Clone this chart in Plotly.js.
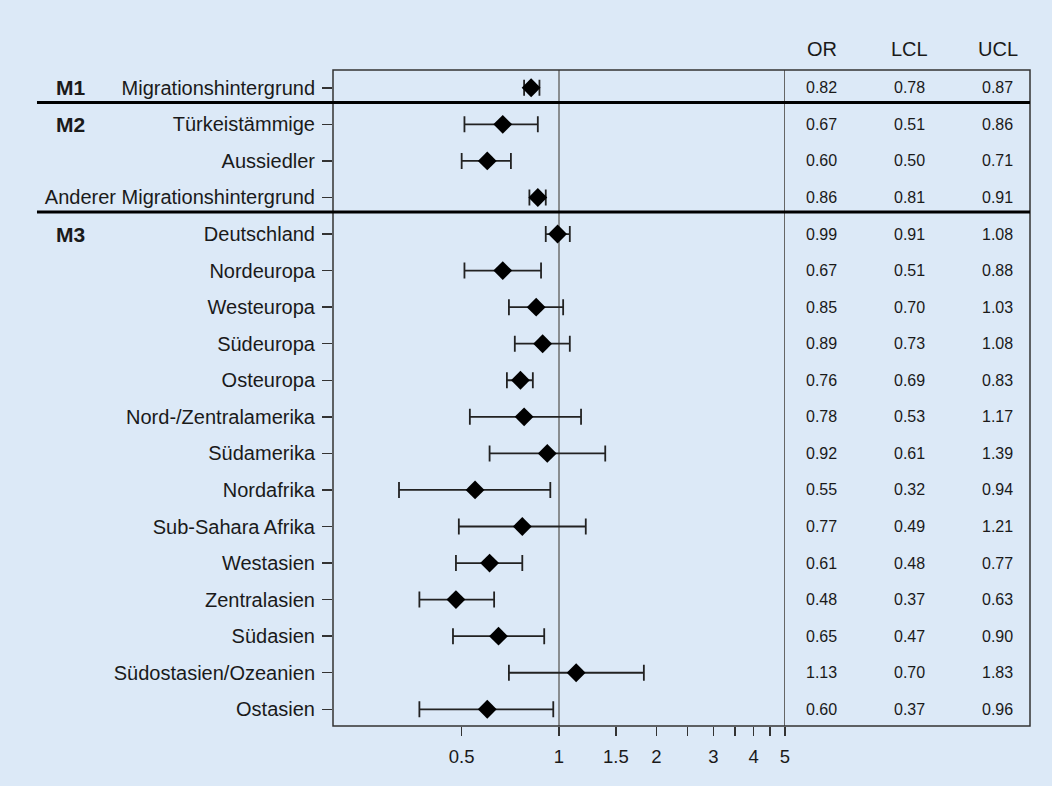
<!DOCTYPE html>
<html>
<head>
<meta charset="utf-8">
<script src="https://cdn.plot.ly/plotly-3.0.1.min.js"></script>
<style>html,body{margin:0;padding:0;background:#dce9f7;}#chart{width:1052px;height:786px;}</style>
</head>
<body>
<div id="chart"></div>
<script>
// ---- data ----
const labels = ["Migrationshintergrund","Türkeistämmige","Aussiedler","Anderer Migrationshintergrund",
  "Deutschland","Nordeuropa","Westeuropa","Südeuropa","Osteuropa","Nord-/Zentralamerika","Südamerika",
  "Nordafrika","Sub-Sahara Afrika","Westasien","Zentralasien","Südasien","Südostasien/Ozeanien","Ostasien"];
const orValues  = [0.82,0.67,0.60,0.86,0.99,0.67,0.85,0.89,0.76,0.78,0.92,0.55,0.77,0.61,0.48,0.65,1.13,0.60];
const lclValues = [0.78,0.51,0.50,0.81,0.91,0.51,0.70,0.73,0.69,0.53,0.61,0.32,0.49,0.48,0.37,0.47,0.70,0.37];
const uclValues = [0.87,0.86,0.71,0.91,1.08,0.88,1.03,1.08,0.83,1.17,1.39,0.94,1.21,0.77,0.63,0.90,1.83,0.96];
const groupNames = ["M1","M2","M3"];
const groupStartRow = [0,1,4];
const groupBreaks = [0.4,3.4];
const tableHeaders = ["OR","LCL","UCL"];
const xTickVals = [0.5,1,1.5,2,2.5,3,3.5,4,4.5,5];
const xTickText = ["0.5","1","1.5","2","","3","","4","","5"];

// ---- layout constants ----
const bg = "#dce9f7";
const font = "'Liberation Sans', Arial, sans-serif";
const txt = "#1a1a1a";
const yRange = [17.457, -0.487];
const xDomEnd = 0.6485;
const colX = [0.7012, 0.8264, 0.9534];
const rows = labels.map((_, i) => i);
const toPaperY = v => (v - yRange[0]) / (yRange[1] - yRange[0]);

const trace = {
  type: "scatter", mode: "markers",
  x: orValues, y: rows,
  marker: {symbol: "diamond", size: 14.5, color: "#000"},
  error_x: {
    type: "data", symmetric: false,
    array: uclValues.map((u, i) => u - orValues[i]),
    arrayminus: orValues.map((o, i) => o - lclValues[i]),
    color: "#222", thickness: 1.8, width: 8
  },
  hoverinfo: "skip", showlegend: false, cliponaxis: false
};

const annotations = [];
const cols = [orValues, lclValues, uclValues];
cols.forEach((arr, c) => {
  arr.forEach((v, i) => annotations.push({
    xref: "paper", yref: "y", x: colX[c], y: i, text: v.toFixed(2),
    showarrow: false, xanchor: "center", yanchor: "middle",
    font: {family: font, size: 16, color: txt}
  }));
  annotations.push({
    xref: "paper", yref: "paper", x: colX[c], y: 1.0316, text: tableHeaders[c],
    showarrow: false, xanchor: "center", yanchor: "middle",
    font: {family: font, size: 20, color: txt}
  });
});
groupNames.forEach((g, k) => annotations.push({
  xref: "paper", yref: "y", x: -0.3773, y: groupStartRow[k], text: "<b>" + g + "</b>",
  showarrow: false, xanchor: "center", yanchor: "middle",
  font: {family: font, size: 21, color: txt}
}));

const shapes = [
  {type: "line", xref: "x", yref: "paper", x0: 1, x1: 1, y0: 0, y1: 1, line: {color: "#6e6e6e", width: 1.5}, layer: "below"},
  {type: "line", xref: "x", yref: "paper", x0: 5, x1: 5, y0: 0, y1: 1, line: {color: "#666", width: 2}},
  {type: "rect", xref: "paper", yref: "paper", x0: 0, x1: 1, y0: 0, y1: 1, line: {color: "#333", width: 1.5}}
];
groupBreaks.forEach(b => shapes.push({
  type: "line", xref: "paper", yref: "paper", x0: -0.4247, x1: 1,
  y0: toPaperY(b), y1: toPaperY(b), line: {color: "#000", width: 3}
}));

const layout = {
  width: 1052, height: 786,
  margin: {l: 333, r: 22, t: 70, b: 60},
  paper_bgcolor: bg, plot_bgcolor: bg,
  font: {family: font, color: txt},
  showlegend: false,
  xaxis: {
    type: "log", domain: [0, xDomEnd],
    range: [Math.log10(0.2), Math.log10(5)],
    tickmode: "array", tickvals: xTickVals, ticktext: xTickText,
    ticks: "outside", ticklen: 9, tickwidth: 1.5, tickcolor: "#333",
    ticklabelstandoff: 5,
    tickfont: {family: font, size: 18.5, color: txt},
    showgrid: false, zeroline: false, showline: false, fixedrange: true
  },
  yaxis: {
    range: yRange,
    tickmode: "array", tickvals: rows, ticktext: labels,
    ticks: "outside", ticklen: 10, tickwidth: 1.5, tickcolor: "#333",
    ticklabelstandoff: 3,
    tickfont: {family: font, size: 20, color: txt},
    showgrid: false, zeroline: false, showline: false, fixedrange: true
  },
  shapes: shapes,
  annotations: annotations
};

Plotly.newPlot("chart", [trace], layout, {displayModeBar: false, staticPlot: true});
</script>
</body>
</html>
